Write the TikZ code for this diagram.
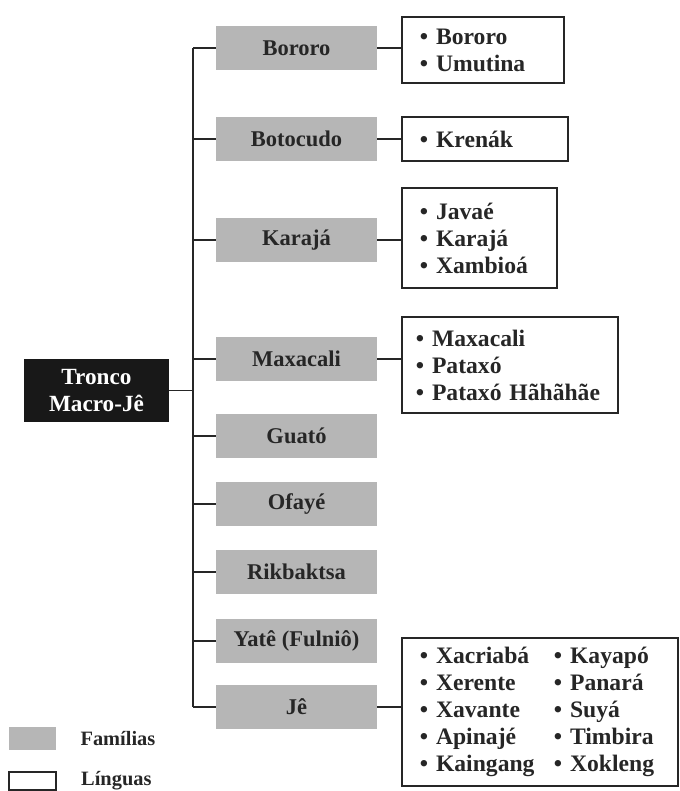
\documentclass[tikz,border=0pt]{standalone}
\usepackage{fontspec}
\setmainfont{Liberation Serif}
\usetikzlibrary{positioning}
\definecolor{famgray}{RGB}{182,182,182}
\definecolor{inkgray}{RGB}{38,38,38}
\definecolor{troncoblack}{RGB}{24,24,24}

\tikzset{
  familia/.style={fill=famgray, minimum width=4.025cm, minimum height=1.1cm, inner sep=0pt,
    font=\fontsize{16}{18}\selectfont\bfseries, text=inkgray},
  lingua/.style={draw=inkgray, line width=1.3pt, anchor=west, align=left, inner xsep=0.45cm, inner ysep=0pt,
    font=\fontsize{16.8}{19.2}\selectfont\bfseries, text=inkgray},
  ramo/.style={draw=inkgray, line width=1.3pt},
  legenda/.style={font=\fontsize{14.5}{17}\selectfont\bfseries, text=inkgray, anchor=west, inner sep=0pt},
}

\begin{document}
\begin{tikzpicture}[x=0.025cm, y=-0.025cm]

	\useasboundingbox (0,0) rectangle (679,791);

	% tronco
	\node[fill=troncoblack, text=white, minimum width=3.625cm, minimum height=1.575cm, inner sep=0pt,
	      align=center, font=\fontsize{16.5}{19.5}\selectfont\bfseries] (tronco) at (96.5,390.5) {Tronco\\Macro-Jê};

	% familias
	\node[familia] (bororo)   at (296.5,48)  {Bororo};
	\node[familia] (botocudo) at (296.5,139) {Botocudo};
	\node[familia] (karaja)   at (296.5,240) {Karajá};
	\node[familia] (maxacali) at (296.5,359) {Maxacali};
	\node[familia] (guato)    at (296.5,436) {Guató};
	\node[familia] (ofaye)    at (296.5,504) {Ofayé};
	\node[familia] (rikbaktsa) at (296.5,572) {Rikbaktsa};
	\node[familia] (yate)     at (296.5,641) {Yatê (Fulniô)};
	\node[familia] (je)       at (296.5,707) {Jê};

	% linguas
	\node[lingua, text width=3.15cm, minimum height=1.65cm] (lbororo) at (401,50)
		{• Bororo\\• Umutina};
	\node[lingua, text width=3.25cm, minimum height=1.1cm] (lbotocudo) at (401,139)
		{• Krenák};
	\node[lingua, text width=2.975cm, minimum height=2.5cm] (lkaraja) at (401,238)
		{• Javaé\\• Karajá\\• Xambioá};
	\node[lingua, text width=4.7cm, inner xsep=0.35cm, minimum height=2.4cm] (lmaxacali) at (401,365)
		{• Maxacali\\• Pataxó\\• Pataxó Hãhãhãe};
	\node[lingua, text width=6.0cm, minimum height=3.7cm, inner xsep=0.45cm] (lje) at (401,712)
		{\begin{tabular}{@{}p{3.35cm}@{}l@{}}
		 • Xacriabá & • Kayapó\\
		 • Xerente  & • Panará\\
		 • Xavante  & • Suyá\\
		 • Apinajé  & • Timbira\\
		 • Kaingang & • Xokleng
		 \end{tabular}};

	% ligacoes
	\coordinate (eixo) at (193,48);
	\draw[ramo] (tronco.east) -- (tronco.east -| eixo);
	\draw[ramo] (bororo.west -| eixo) -- (je.west -| eixo);
	\foreach \f in {bororo,botocudo,karaja,maxacali,guato,ofaye,rikbaktsa,yate,je}
		\draw[ramo] (\f.west -| eixo) -- (\f.west);
	\foreach \f in {bororo,botocudo,karaja,maxacali,je}
		\draw[ramo] (\f.east) -- (\f.east -| l\f.west);

	% legenda
	\node[fill=famgray, minimum width=1.175cm, minimum height=0.575cm, inner sep=0pt] (legfam) at (32.5,738.5) {};
	\node[draw=inkgray, line width=1.3pt, minimum width=1.175cm, minimum height=0.43cm, inner sep=0pt] (leglin) at (32.5,781) {};
	\node[legenda, right=0.6cm of legfam] (txtfam) {Famílias};
	\node[legenda, right=0.6cm of leglin] (txtlin) {Línguas};

\end{tikzpicture}
\end{document}
